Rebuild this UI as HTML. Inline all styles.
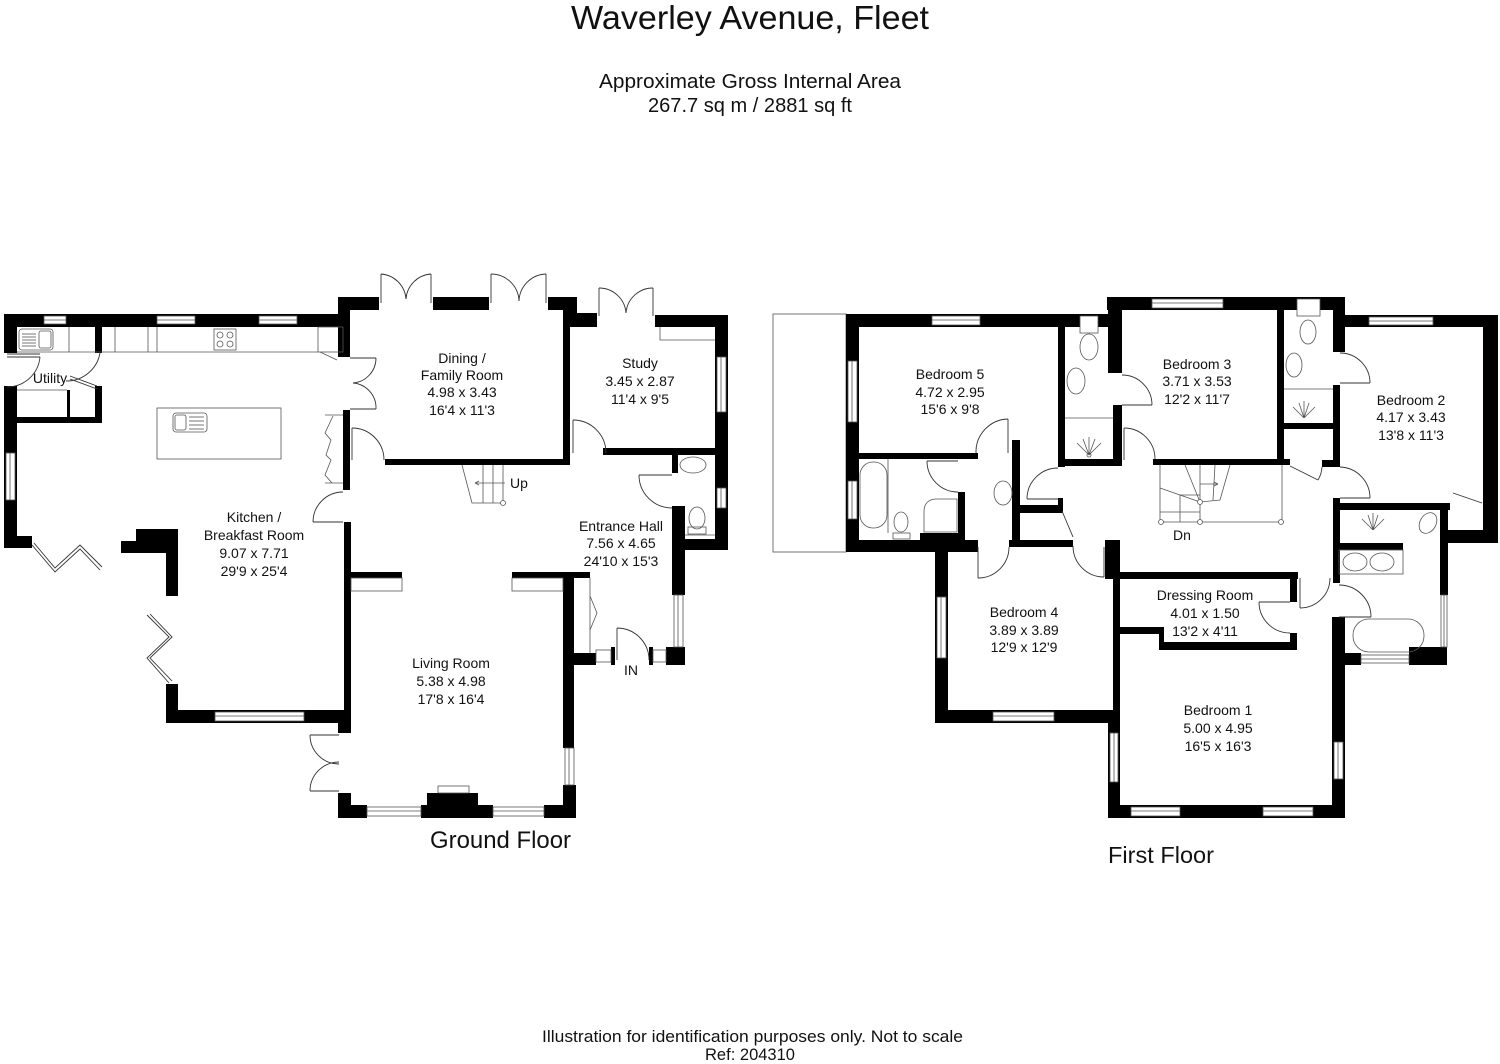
<!DOCTYPE html>
<html><head><meta charset="utf-8"><style>
html,body{margin:0;padding:0;background:#fff;}
svg{display:block;}
text{font-family:"Liberation Sans",Arial,sans-serif;fill:#111;}
.w{fill:#000;}
.win{fill:#fff;stroke:#555;stroke-width:0.8;}
.t{fill:none;stroke:#333;stroke-width:0.9;}
.g{fill:none;stroke:#555;stroke-width:0.8;}
.lab{font-size:14px;text-anchor:middle;}
</style></head><body>
<svg width="1500" height="1064" viewBox="0 0 1500 1064" xmlns="http://www.w3.org/2000/svg">
<rect width="1500" height="1064" fill="#fff"/>

<!-- Titles -->
<text x="571" y="29" font-size="33" textLength="358" lengthAdjust="spacingAndGlyphs">Waverley Avenue, Fleet</text>
<text x="599" y="88" font-size="20" textLength="302" lengthAdjust="spacingAndGlyphs">Approximate Gross Internal Area</text>
<text x="648" y="112" font-size="20" textLength="204" lengthAdjust="spacingAndGlyphs">267.7 sq m / 2881 sq ft</text>
<text x="430" y="848" font-size="24" textLength="141" lengthAdjust="spacingAndGlyphs">Ground Floor</text>
<text x="1108" y="863" font-size="23" textLength="106" lengthAdjust="spacingAndGlyphs">First Floor</text>
<text x="542" y="1042" font-size="17" textLength="421" lengthAdjust="spacingAndGlyphs">Illustration for identification purposes only. Not to scale</text>
<text x="705" y="1060" font-size="17" textLength="90" lengthAdjust="spacingAndGlyphs">Ref: 204310</text>

<!-- ================= GROUND FLOOR ================= -->
<g class="w">
  <!-- kitchen top -->
  <rect x="4" y="314" width="346" height="13"/>
  <rect x="4" y="314" width="13" height="39"/>
  <rect x="4" y="386" width="13" height="162"/>
  <rect x="4" y="536" width="28" height="12"/>
  <!-- utility -->
  <rect x="95" y="326" width="7" height="27"/>
  <rect x="95" y="386" width="7" height="37"/>
  <rect x="17" y="417" width="85" height="6"/>
  <rect x="67" y="390" width="3" height="27"/>
  <!-- dining corner/left -->
  <rect x="338" y="297" width="12" height="60"/>
  <rect x="343" y="410" width="7" height="80"/>
  <rect x="344" y="522" width="7" height="188"/>
  <rect x="338" y="710" width="13" height="23"/>
  <!-- kitchen bottom -->
  <rect x="166" y="710" width="185" height="13"/>
  <rect x="166" y="684" width="12" height="39"/>
  <!-- L column -->
  <polygon points="136,529 178,529 178,596 166,596 166,553 121,553 121,541 136,541"/>
  <!-- dining top -->
  <rect x="338" y="297" width="41" height="13"/>
  <rect x="433" y="297" width="56" height="13"/>
  <rect x="548" y="297" width="29" height="13"/>
  <rect x="563" y="297" width="14" height="30"/>
  <rect x="563" y="313" width="34" height="14"/>
  <rect x="563" y="310" width="7" height="155"/>
  <rect x="385" y="459" width="185" height="6"/>
  <!-- study -->
  <rect x="655" y="315" width="73" height="12"/>
  <rect x="715" y="315" width="13" height="235"/>
  <rect x="603" y="448" width="125" height="7"/>
  <!-- wc / entrance -->
  <rect x="672" y="454" width="6" height="19"/>
  <rect x="672" y="506" width="13" height="89"/>
  <rect x="678" y="539" width="50" height="11"/>
  <rect x="666" y="647" width="19" height="18"/>
  <rect x="649" y="647" width="4" height="18"/>
  <rect x="611" y="647" width="4" height="18"/>
  <rect x="569" y="653" width="27" height="12"/>
  <!-- living -->
  <rect x="563" y="572" width="11" height="176"/>
  <rect x="563" y="785" width="13" height="33"/>
  <rect x="351" y="572" width="51" height="6"/>
  <rect x="512" y="572" width="78" height="6"/>
  <rect x="338" y="805" width="29" height="13"/>
  <rect x="338" y="793" width="13" height="25"/>
  <rect x="421" y="805" width="72" height="13"/>
  <rect x="427" y="793" width="51" height="13"/>
  <rect x="544" y="805" width="32" height="13"/>
</g>
<!-- GF windows -->
<g>
  <rect class="win" x="44" y="316" width="22" height="8"/>
  <rect class="win" x="157" y="316" width="38" height="8"/>
  <rect class="win" x="259" y="316" width="38" height="8"/>
  <rect class="win" x="6" y="453" width="9" height="47"/>
  <rect class="win" x="215" y="712" width="89" height="9"/>
  <rect class="win" x="367" y="807" width="54" height="9"/>
  <rect class="win" x="493" y="807" width="51" height="9"/>
  <rect class="win" x="565" y="748" width="9" height="37"/>
  <rect class="win" x="717" y="357" width="9" height="55"/>
  <rect class="win" x="717" y="488" width="9" height="20"/>
  <rect class="win" x="674" y="595" width="9" height="52"/>
  <rect class="win" x="653" y="650" width="13" height="12"/>
  <rect class="win" x="596" y="650" width="15" height="12"/>
  <line class="g" x1="44" y1="320" x2="66" y2="320"/>
  <line class="g" x1="157" y1="320" x2="195" y2="320"/>
  <line class="g" x1="259" y1="320" x2="297" y2="320"/>
  <line class="g" x1="10" y1="453" x2="10" y2="500"/>
  <line class="g" x1="215" y1="716" x2="304" y2="716"/>
  <line class="g" x1="367" y1="811" x2="421" y2="811"/>
  <line class="g" x1="493" y1="811" x2="544" y2="811"/>
  <line class="g" x1="569" y1="748" x2="569" y2="785"/>
  <line class="g" x1="721" y1="357" x2="721" y2="412"/>
  <line class="g" x1="721" y1="488" x2="721" y2="508"/>
  <line class="g" x1="678" y1="595" x2="678" y2="647"/>
</g>
<!-- GF doors -->
<g class="t">
  <!-- dining french doors -->
  <line x1="381" y1="274" x2="381" y2="303"/><line x1="431" y1="274" x2="431" y2="303"/>
  <path d="M381,274 A27,27 0 0 1 406,299"/><path d="M431,274 A27,27 0 0 0 406,299"/>
  <line x1="491" y1="274" x2="491" y2="303"/><line x1="546" y1="274" x2="546" y2="303"/>
  <path d="M491,274 A28,28 0 0 1 519,301"/><path d="M546,274 A28,28 0 0 0 519,301"/>
  <!-- study french doors -->
  <line x1="599" y1="288" x2="599" y2="316"/><line x1="653" y1="288" x2="653" y2="316"/>
  <path d="M599,288 A27,27 0 0 1 626,313"/><path d="M653,288 A27,27 0 0 0 626,313"/>
  <!-- dining left double doors -->
  <line x1="350" y1="358" x2="376" y2="358"/><line x1="350" y1="409" x2="376" y2="409"/>
  <path d="M376,358 A25,25 0 0 1 353,383"/><path d="M376,409 A25,25 0 0 0 353,383"/>
  <!-- dining door -->
  <line x1="352" y1="428" x2="352" y2="460"/><path d="M352,428 A32,32 0 0 1 384,460"/>
  <!-- kitchen to hall -->
  <line x1="313" y1="522" x2="343" y2="522"/><path d="M313,522 A30,30 0 0 1 343,492"/>
  <!-- study door -->
  <line x1="573" y1="420" x2="573" y2="453"/><path d="M573,420 A33,33 0 0 1 606,453"/>
  <!-- wc door -->
  <line x1="639" y1="475" x2="672" y2="475"/><path d="M639,475 A33,33 0 0 0 672,508"/>
  <!-- front door -->
  <line x1="617" y1="628" x2="617" y2="660"/><path d="M617,628 A32,32 0 0 1 649,660"/>
  <!-- living double doors -->
  <line x1="310" y1="735" x2="339" y2="735"/><line x1="310" y1="791" x2="339" y2="791"/>
  <path d="M310,735 A29,29 0 0 0 339,764"/><path d="M310,791 A29,29 0 0 1 339,762"/>
  <!-- utility external -->
  <line x1="7" y1="354" x2="40" y2="354"/><line x1="7" y1="357" x2="40" y2="357"/>
  <path d="M40,357 A33,33 0 0 1 7,387"/>
  <!-- utility inner door -->
  <path d="M100,353 A34,34 0 0 1 66,381"/>
  <line x1="70" y1="376" x2="97" y2="386"/><line x1="70" y1="379" x2="97" y2="389"/>
  <!-- bifold doors kitchen -->
  <polyline points="32,545 55,572 80,549 100,570"/>
  <polyline points="34,543 55,568 80,545 102,567"/>
  <polyline points="147,615 169,637 147,658 169,683"/>
  <polyline points="150,614 172,637 150,658 172,681"/>
</g>
<!-- GF fixtures -->
<g class="g">
  <line x1="17" y1="352" x2="318" y2="352"/>
  <line x1="69" y1="327" x2="69" y2="352"/>
  <line x1="115" y1="327" x2="115" y2="352"/>
  <line x1="148" y1="327" x2="148" y2="352"/>
  <line x1="157" y1="327" x2="157" y2="352"/>
  <rect x="318" y="327" width="25" height="25"/>
  <line x1="320" y1="352" x2="337" y2="360"/>
  <rect x="19" y="329" width="34" height="21" rx="3"/>
  <rect x="39" y="331" width="12" height="17" rx="2"/>
  <line x1="22" y1="334" x2="36" y2="334"/><line x1="22" y1="337" x2="36" y2="337"/>
  <line x1="22" y1="340" x2="36" y2="340"/><line x1="22" y1="343" x2="36" y2="343"/>
  <line x1="22" y1="346" x2="36" y2="346"/>
  <rect x="214" y="329" width="22" height="21"/>
  <circle cx="220" cy="335" r="3"/><circle cx="230" cy="335" r="3"/>
  <circle cx="220" cy="344" r="3"/><circle cx="230" cy="344" r="3"/>
  <rect x="157" y="408" width="124" height="51"/>
  <rect x="173" y="413" width="34" height="19" rx="3"/>
  <rect x="175" y="415" width="11" height="15" rx="2"/>
  <line x1="189" y1="417" x2="204" y2="417"/><line x1="189" y1="421" x2="204" y2="421"/>
  <line x1="189" y1="425" x2="204" y2="425"/><line x1="189" y1="429" x2="204" y2="429"/>
  <line x1="17" y1="390" x2="67" y2="390"/>
  <!-- hall cupboard left of dining -->
  <line x1="325" y1="415" x2="343" y2="415"/><line x1="325" y1="483" x2="343" y2="483"/>
  <polyline points="333,416 325,433 331,440 326,455 331,460 325,475 332,483"/>
  <!-- stub outlines -->
  <rect x="351" y="578" width="51" height="13"/>
  <rect x="512" y="578" width="51" height="13"/>
  <!-- entrance cupboard -->
  <line x1="590" y1="578" x2="590" y2="653"/>
  <polyline points="590,596 597,613 590,630"/>
  <!-- hearth -->
  <rect x="438" y="786" width="31" height="7"/>
  <!-- stairs -->
  <path d="M462,465 L472,503 L503,503 L503,465"/>
  <line x1="483" y1="465" x2="483" y2="503"/>
  <line x1="493" y1="465" x2="493" y2="503"/>
  <line x1="475" y1="483" x2="505" y2="483"/>
  <path d="M475,483 l4,-2 M475,483 l4,2"/>
  <circle cx="503" cy="503" r="2.5" fill="#fff"/>
  <!-- wc fittings -->
  <ellipse cx="693" cy="465" rx="13" ry="8"/>
  <ellipse cx="697" cy="518" rx="8" ry="11"/>
  <rect x="688" y="527" width="18" height="7"/>
  <line x1="685" y1="535" x2="715" y2="535"/>
  <!-- study cupboard line -->
  <polyline points="660,327 660,340 715,340"/>
</g>
<g class="lab">
  <text x="462" y="363">Dining /</text>
  <text x="462" y="380">Family Room</text>
  <text x="462" y="397">4.98 x 3.43</text>
  <text x="462" y="415">16'4 x 11'3</text>
  <text x="640" y="368">Study</text>
  <text x="640" y="386">3.45 x 2.87</text>
  <text x="640" y="404">11'4 x 9'5</text>
  <text x="621" y="531">Entrance Hall</text>
  <text x="621" y="548">7.56 x 4.65</text>
  <text x="621" y="566">24'10 x 15'3</text>
  <text x="254" y="522">Kitchen /</text>
  <text x="254" y="540">Breakfast Room</text>
  <text x="254" y="558">9.07 x 7.71</text>
  <text x="254" y="576">29'9 x 25'4</text>
  <text x="451" y="668">Living Room</text>
  <text x="451" y="686">5.38 x 4.98</text>
  <text x="451" y="704">17'8 x 16'4</text>
  <text x="50" y="383">Utility</text>
  <text x="519" y="488">Up</text>
  <text x="631" y="675">IN</text>
  <text x="1182" y="540">Dn</text>
</g>

<!-- ================= FIRST FLOOR ================= -->
<rect x="773" y="314" width="73" height="238" fill="none" stroke="#666" stroke-width="0.9"/>
<g class="w">
  <rect x="846" y="314" width="262" height="13"/>
  <rect x="846" y="314" width="13" height="238"/>
  <rect x="1108" y="297" width="14" height="76"/>
  <rect x="1107" y="297" width="238" height="13"/>
  <rect x="1333" y="297" width="12" height="55"/>
  <rect x="1333" y="315" width="165" height="12"/>
  <rect x="1483" y="315" width="15" height="228"/>
  <rect x="1447" y="530" width="51" height="13"/>
  <rect x="1340" y="503" width="110" height="7"/>
  <rect x="1333" y="498" width="7" height="85"/>
  <rect x="1440" y="503" width="8" height="92"/>
  <rect x="1409" y="647" width="38" height="18"/>
  <rect x="1332" y="653" width="29" height="12"/>
  <rect x="1332" y="617" width="13" height="201"/>
  <rect x="1339" y="543" width="64" height="7"/>
  <rect x="1108" y="805" width="237" height="13"/>
  <rect x="1113" y="540" width="7" height="182"/>
  <rect x="1108" y="722" width="12" height="96"/>
  <rect x="935" y="540" width="13" height="183"/>
  <rect x="935" y="710" width="185" height="13"/>
  <rect x="846" y="540" width="132" height="12"/>
  <rect x="920" y="533" width="40" height="8"/>
  <rect x="958" y="492" width="7" height="48"/>
  <rect x="1009" y="540" width="64" height="7"/>
  <rect x="1105" y="540" width="15" height="39"/>
  <rect x="1120" y="572" width="178" height="7"/>
  <rect x="1290" y="572" width="7" height="30"/>
  <rect x="1290" y="633" width="7" height="17"/>
  <rect x="1159" y="642" width="138" height="8"/>
  <rect x="1120" y="627" width="44" height="7"/>
  <rect x="1159" y="627" width="5" height="23"/>
  <rect x="1058" y="327" width="7" height="140"/>
  <rect x="1058" y="459" width="64" height="7"/>
  <rect x="1113" y="405" width="9" height="61"/>
  <rect x="1153" y="459" width="137" height="6"/>
  <rect x="1277" y="310" width="7" height="155"/>
  <rect x="1284" y="423" width="49" height="6"/>
  <rect x="1333" y="385" width="7" height="82"/>
  <rect x="1322" y="460" width="18" height="7"/>
  <rect x="857" y="453" width="121" height="6"/>
  <rect x="1012" y="440" width="8" height="106"/>
  <rect x="1020" y="505" width="40" height="8"/>
  <rect x="1058" y="498" width="5" height="15"/>
</g>
<!-- FF windows -->
<g>
  <rect class="win" x="932" y="316" width="48" height="9"/>
  <rect class="win" x="1080" y="316" width="18" height="17"/>
  <rect class="win" x="848" y="361" width="9" height="61"/>
  <rect class="win" x="848" y="481" width="9" height="38"/>
  <rect class="win" x="1152" y="299" width="71" height="9"/>
  <rect class="win" x="1297" y="299" width="23" height="17"/>
  <rect class="win" x="1369" y="317" width="64" height="8"/>
  <rect class="win" x="1441" y="595" width="6" height="52"/>
  <rect class="win" x="1361" y="655" width="48" height="8"/>
  <rect class="win" x="1334" y="742" width="9" height="37"/>
  <rect class="win" x="1131" y="807" width="49" height="9"/>
  <rect class="win" x="1263" y="807" width="50" height="9"/>
  <rect class="win" x="1110" y="733" width="8" height="49"/>
  <rect class="win" x="937" y="597" width="9" height="61"/>
  <rect class="win" x="993" y="712" width="61" height="9"/>
  <line class="g" x1="932" y1="320" x2="980" y2="320"/>
  <line class="g" x1="852" y1="361" x2="852" y2="422"/>
  <line class="g" x1="852" y1="481" x2="852" y2="519"/>
  <line class="g" x1="1152" y1="303" x2="1223" y2="303"/>
  <line class="g" x1="1369" y1="321" x2="1433" y2="321"/>
  <line class="g" x1="1444" y1="595" x2="1444" y2="647"/>
  <line class="g" x1="1361" y1="659" x2="1409" y2="659"/>
  <line class="g" x1="1338" y1="742" x2="1338" y2="779"/>
  <line class="g" x1="1131" y1="811" x2="1180" y2="811"/>
  <line class="g" x1="1263" y1="811" x2="1313" y2="811"/>
  <line class="g" x1="1114" y1="733" x2="1114" y2="782"/>
  <line class="g" x1="941" y1="597" x2="941" y2="658"/>
  <line class="g" x1="993" y1="716" x2="1054" y2="716"/>
</g>
<!-- FF doors -->
<g class="t">
  <line x1="1122" y1="405" x2="1152" y2="405"/><path d="M1152,405 A30,30 0 0 0 1122,375"/>
  <line x1="1124" y1="428" x2="1124" y2="460"/><path d="M1124,428 A31,31 0 0 1 1155,459"/>
  <line x1="1340" y1="383" x2="1370" y2="383"/><path d="M1370,383 A30,30 0 0 0 1340,353"/>
  <line x1="1290" y1="466" x2="1318" y2="480"/><path d="M1318,480 A28,28 0 0 0 1322,467"/>
  <line x1="1340" y1="498" x2="1370" y2="498"/><path d="M1370,498 A31,31 0 0 0 1340,467"/>
  <line x1="1453" y1="493" x2="1482" y2="503"/>
  <line x1="1339" y1="617" x2="1371" y2="617"/><path d="M1371,617 A32,32 0 0 0 1339,585"/>
  <line x1="1300" y1="578" x2="1300" y2="608"/><path d="M1300,608 A30,30 0 0 0 1330,578"/>
  <line x1="1259" y1="602" x2="1290" y2="602"/><path d="M1259,602 A31,31 0 0 0 1290,633"/>
  <line x1="1104" y1="547" x2="1104" y2="577"/><path d="M1104,577 A31,31 0 0 1 1073,546"/>
  <line x1="978" y1="547" x2="978" y2="578"/><path d="M978,578 A31,31 0 0 0 1009,547"/>
  <line x1="1008" y1="419" x2="1008" y2="453"/><path d="M1008,419 A33,33 0 0 0 976,453"/>
  <line x1="927" y1="461" x2="958" y2="461"/><path d="M927,461 A31,31 0 0 0 958,492"/>
  <line x1="1027" y1="499" x2="1058" y2="499"/><path d="M1027,499 A31,31 0 0 1 1058,468"/>
  <line x1="1062" y1="511" x2="1073" y2="537"/>
</g>
<!-- FF fixtures -->
<g class="g">
  <ellipse cx="1089" cy="347" rx="9" ry="13"/>
  <ellipse cx="1076" cy="381" rx="9" ry="13"/>
  <line x1="1065" y1="418" x2="1113" y2="418"/>
  <path d="M1089,455 l-12,-12 M1089,455 l-6,-16 M1089,455 l0,-18 M1089,455 l6,-16 M1089,455 l12,-12"/>
  <circle cx="1089" cy="455" r="2"/>
  <ellipse cx="1308" cy="332" rx="8" ry="12"/>
  <ellipse cx="1294" cy="365" rx="8" ry="12"/>
  <line x1="1284" y1="389" x2="1333" y2="389"/>
  <path d="M1304,418 l-11,-11 M1304,418 l-5,-15 M1304,418 l0,-17 M1304,418 l5,-15 M1304,418 l11,-11"/>
  <rect x="860" y="462" width="27" height="66" rx="13"/>
  <line x1="888" y1="459" x2="888" y2="533"/>
  <ellipse cx="901" cy="522" rx="7" ry="10"/>
  <rect x="893" y="533" width="17" height="6"/>
  <path d="M924,532 L924,512 Q924,499 937,499 L957,499 L957,532 Z"/>
  <ellipse cx="1003" cy="493" rx="9" ry="12"/>
  <rect x="1339" y="550" width="64" height="24"/>
  <ellipse cx="1355" cy="562" rx="12" ry="9"/>
  <ellipse cx="1382" cy="562" rx="12" ry="9"/>
  <rect x="1353" y="619" width="71" height="33" rx="16"/>
  <path d="M1373,530 l-11,-11 M1373,530 l-5,-15 M1373,530 l0,-17 M1373,530 l5,-15 M1373,530 l11,-11"/>
  <ellipse cx="1428" cy="523" rx="8" ry="11" transform="rotate(30 1428 523)"/>
  <!-- stairs -->
  <path d="M1160,465 L1160,522 L1282,522 L1282,465"/>
  <path d="M1185,465 L1200,502 L1220,500 L1230,465"/>
  <line x1="1200" y1="465" x2="1200" y2="502"/>
  <line x1="1215" y1="465" x2="1213" y2="500"/>
  <line x1="1160" y1="488" x2="1200" y2="502"/>
  <line x1="1160" y1="512" x2="1200" y2="512"/>
  <line x1="1180" y1="495" x2="1200" y2="495"/>
  <line x1="1180" y1="495" x2="1180" y2="522"/>
  <line x1="1200" y1="502" x2="1200" y2="522"/>
  <line x1="1200" y1="484" x2="1218" y2="484"/>
  <path d="M1218,484 l-4,-2 M1218,484 l-4,2"/>
  <circle cx="1161" cy="522" r="2.5" fill="#fff"/>
  <circle cx="1200" cy="522" r="2.5" fill="#fff"/>
  <circle cx="1281" cy="522" r="2.5" fill="#fff"/>
  <circle cx="1200" cy="502" r="2.5" fill="#fff"/>
</g>
<g class="lab">
  <text x="950" y="379">Bedroom 5</text>
  <text x="950" y="397">4.72 x 2.95</text>
  <text x="950" y="414">15'6 x 9'8</text>
  <text x="1197" y="369">Bedroom 3</text>
  <text x="1197" y="386">3.71 x 3.53</text>
  <text x="1197" y="404">12'2 x 11'7</text>
  <text x="1411" y="405">Bedroom 2</text>
  <text x="1411" y="422">4.17 x 3.43</text>
  <text x="1411" y="440">13'8 x 11'3</text>
  <text x="1024" y="617">Bedroom 4</text>
  <text x="1024" y="635">3.89 x 3.89</text>
  <text x="1024" y="652">12'9 x 12'9</text>
  <text x="1205" y="600">Dressing Room</text>
  <text x="1205" y="618">4.01 x 1.50</text>
  <text x="1205" y="636">13'2 x 4'11</text>
  <text x="1218" y="715">Bedroom 1</text>
  <text x="1218" y="733">5.00 x 4.95</text>
  <text x="1218" y="751">16'5 x 16'3</text>
</g>
</svg>
</body></html>
